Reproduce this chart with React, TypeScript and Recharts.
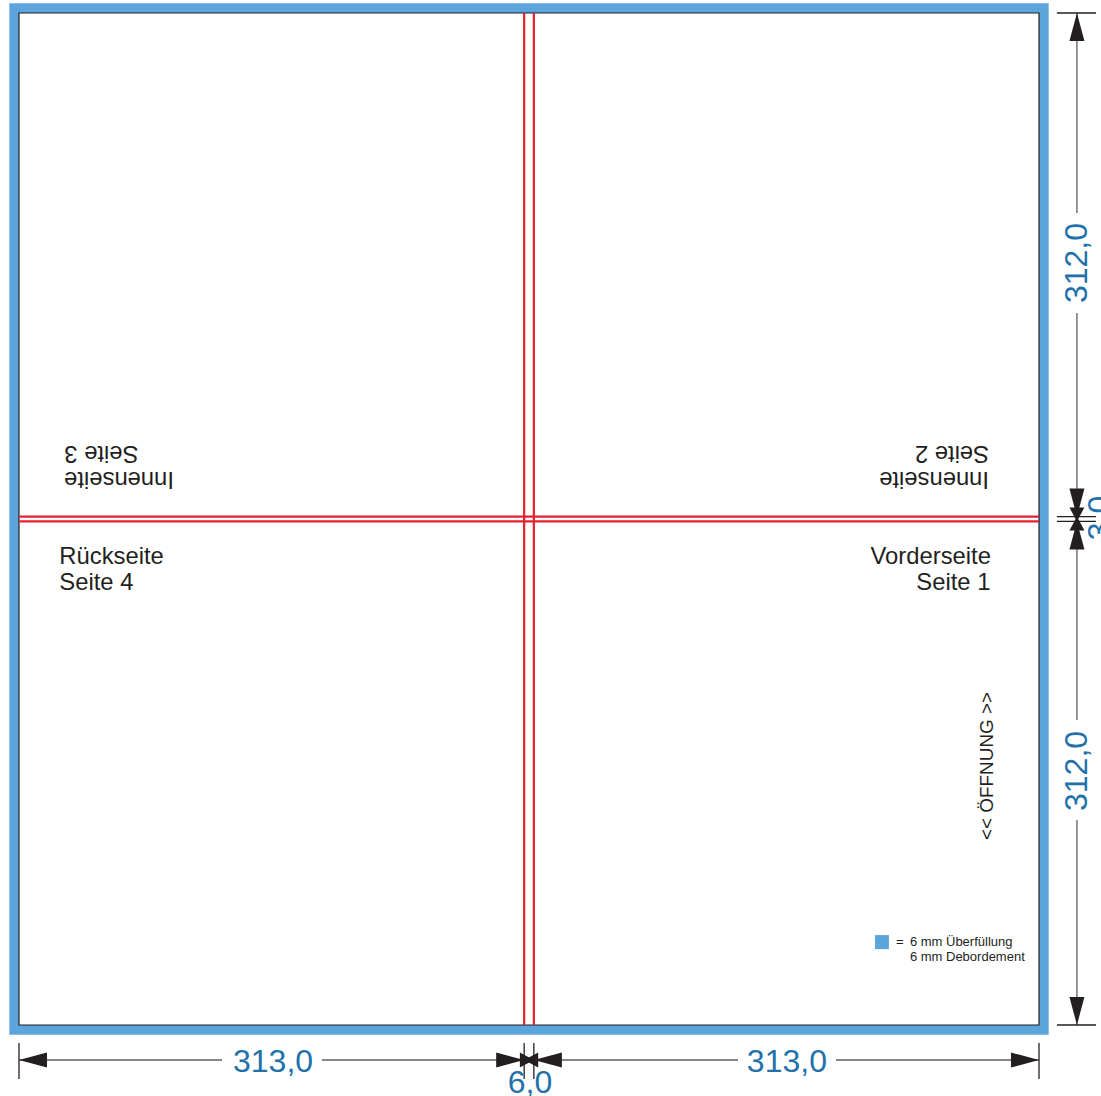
import React from "react";
import { ScatterChart, Scatter, XAxis, YAxis, ReferenceArea, ReferenceLine } from "recharts";

// All values are millimetres on the folded sheet, measured from the trim corner.
const xFolds = [313, 319];
const yFolds = [312, 315];
const trimWidth = 632;
const trimHeight = 627;
const bleed = 6;
const xDomain = [-11.772, 670.41];
const yDomain = [-8.055, 671.0];

const hDimY = 648.7;
const vDimX = 655.5;
const hTickSpan = [638.2, 660.5];
const vTickSpan = [643.1, 667.3];
const hTickXs = [0, 313, 319, 632];
const vTickYs = [0, 312, 315, 627];
const hDimRuns = [[0, 125.8], [187.7, 313], [319, 445.5], [506.2, 632]];
const vDimRuns = [[0, 123.9], [185.9, 312], [315, 438], [500, 627]];

const arrows = [
  { x: 0, y: 648.7, dir: "left", kind: "long" },
  { x: 313, y: 648.7, dir: "right", kind: "long" },
  { x: 319, y: 648.7, dir: "left", kind: "long" },
  { x: 632, y: 648.7, dir: "right", kind: "long" },
  { x: 319, y: 648.7, dir: "right", kind: "short" },
  { x: 313, y: 648.7, dir: "left", kind: "short" },
  { x: 655.5, y: 0, dir: "up", kind: "long" },
  { x: 655.5, y: 312, dir: "down", kind: "long" },
  { x: 655.5, y: 315, dir: "up", kind: "long" },
  { x: 655.5, y: 627, dir: "down", kind: "long" },
  { x: 655.5, y: 315, dir: "down", kind: "short" },
  { x: 655.5, y: 312, dir: "up", kind: "short" },
];

const dimensionLabels = [
  { x: 157.4, y: 656.1, text: "313,0", rot: 0 },
  { x: 475.8, y: 656.1, text: "313,0", rot: 0 },
  { x: 316.6, y: 669.2, text: "6,0", rot: 0 },
  { x: 661.7, y: 154.9, text: "312,0", rot: -90 },
  { x: 661.7, y: 469.6, text: "312,0", rot: -90 },
  { x: 676, y: 312.9, text: "3,0", rot: -90 },
];

const pageLabels = [
  { x: 25.0, y: 341.4, text: "Rückseite", rot: 0, anchor: "start" },
  { x: 25.0, y: 357.5, text: "Seite 4", rot: 0, anchor: "start" },
  { x: 602.2, y: 341.4, text: "Vorderseite", rot: 0, anchor: "end" },
  { x: 601.9, y: 357.5, text: "Seite 1", rot: 0, anchor: "end" },
  { x: 96.0, y: 284.5, text: "Innenseite", rot: 180, anchor: "start" },
  { x: 74.0, y: 268.3, text: "Seite 3", rot: 180, anchor: "start" },
  { x: 601.0, y: 284.5, text: "Innenseite", rot: 180, anchor: "start" },
  { x: 601.0, y: 268.3, text: "Seite 2", rot: 180, anchor: "start" },
];

const openingLabel = [{ x: 603.5, y: 466.5, text: "<< ÖFFNUNG >>", rot: -90, anchor: "middle" }];

const legendSwatchX = [530.4, 539];
const legendSwatchY = [571.3, 580];
const legendLabels = [
  { x: 543.4, y: 578.1, text: "=", rot: 0, anchor: "start" },
  { x: 552, y: 578.1, text: "6 mm Überfüllung", rot: 0, anchor: "start" },
  { x: 552, y: 587.4, text: "6 mm Debordement", rot: 0, anchor: "start" },
];

const BLUE = "#5ca5dc";
const DARK = "#231f20";
const RED = "#e6202e";
const DIM_BLUE = "#2271ab";
const FONT = "'Liberation Sans', Arial, sans-serif";

const arrowShape = (props: any) => {
  const { cx, cy, payload } = props;
  const len = payload.kind === "long" ? 28 : 14;
  const half = 7.5;
  const pts: Record<string, number[][]> = {
    left: [[0, 0], [len, -half], [len, half]],
    right: [[0, 0], [-len, -half], [-len, half]],
    up: [[0, 0], [-half, len], [half, len]],
    down: [[0, 0], [-half, -len], [half, -len]],
  };
  const d = pts[payload.dir].map(([a, b]) => `${cx + a},${cy + b}`).join(" ");
  return <polygon points={d} fill={DARK} />;
};

const textShape = (size: number, color: string, anchorDefault: string) => (props: any) => {
  const { cx, cy, payload } = props;
  return (
    <text
      x={cx}
      y={cy}
      fontFamily={FONT}
      fontSize={size}
      fill={color}
      textAnchor={payload.anchor || anchorDefault}
      transform={payload.rot ? `rotate(${payload.rot} ${cx} ${cy})` : undefined}
    >
      {payload.text}
    </text>
  );
};

export default function App() {
  return (
    <div style={{ position: "absolute", left: 0, top: 0, width: 1101, height: 1096, overflow: "hidden", background: "#fff" }}>
      <ScatterChart width={1101} height={1096} margin={{ top: 0, right: 0, bottom: 0, left: 0 }}>
        <XAxis type="number" dataKey="x" domain={xDomain} hide allowDataOverflow />
        <YAxis type="number" dataKey="y" domain={yDomain} reversed hide width={0} allowDataOverflow />

        <ReferenceArea x1={-bleed} x2={trimWidth + bleed} y1={-bleed} y2={trimHeight + bleed} fill={BLUE} fillOpacity={1} stroke="none" />
        <ReferenceArea x1={0} x2={trimWidth} y1={0} y2={trimHeight} fill="#fff" fillOpacity={1} stroke={DARK} strokeWidth={1.2} />

        {xFolds.map((x) => (
          <ReferenceLine key={`fx${x}`} segment={[{ x, y: 0 }, { x, y: trimHeight }]} stroke={RED} strokeWidth={2.2} />
        ))}
        {yFolds.map((y) => (
          <ReferenceLine key={`fy${y}`} segment={[{ x: 0, y }, { x: trimWidth, y }]} stroke={RED} strokeWidth={2.2} />
        ))}

        {hDimRuns.map(([a, b]) => (
          <ReferenceLine key={`hr${a}`} segment={[{ x: a, y: hDimY }, { x: b, y: hDimY }]} stroke="#5e5e5e" strokeWidth={1.3} />
        ))}
        {vDimRuns.map(([a, b]) => (
          <ReferenceLine key={`vr${a}`} segment={[{ x: vDimX, y: a }, { x: vDimX, y: b }]} stroke="#5e5e5e" strokeWidth={1.3} />
        ))}
        {hTickXs.map((x) => (
          <ReferenceLine key={`ht${x}`} segment={[{ x, y: hTickSpan[0] }, { x, y: hTickSpan[1] }]} stroke={DARK} strokeWidth={1.3} />
        ))}
        {vTickYs.map((y) => (
          <ReferenceLine key={`vt${y}`} segment={[{ x: vTickSpan[0], y }, { x: vTickSpan[1], y }]} stroke={DARK} strokeWidth={1.3} />
        ))}

        <ReferenceArea x1={legendSwatchX[0]} x2={legendSwatchX[1]} y1={legendSwatchY[0]} y2={legendSwatchY[1]} fill={BLUE} fillOpacity={1} stroke="none" />

        <Scatter data={arrows} shape={arrowShape} isAnimationActive={false} />
        <Scatter data={dimensionLabels} shape={textShape(32, DIM_BLUE, "middle")} isAnimationActive={false} />
        <Scatter data={pageLabels} shape={textShape(23.8, DARK, "start")} isAnimationActive={false} />
        <Scatter data={openingLabel} shape={textShape(18.9, DARK, "middle")} isAnimationActive={false} />
        <Scatter data={legendLabels} shape={textShape(13, DARK, "start")} isAnimationActive={false} />
      </ScatterChart>
    </div>
  );
}
